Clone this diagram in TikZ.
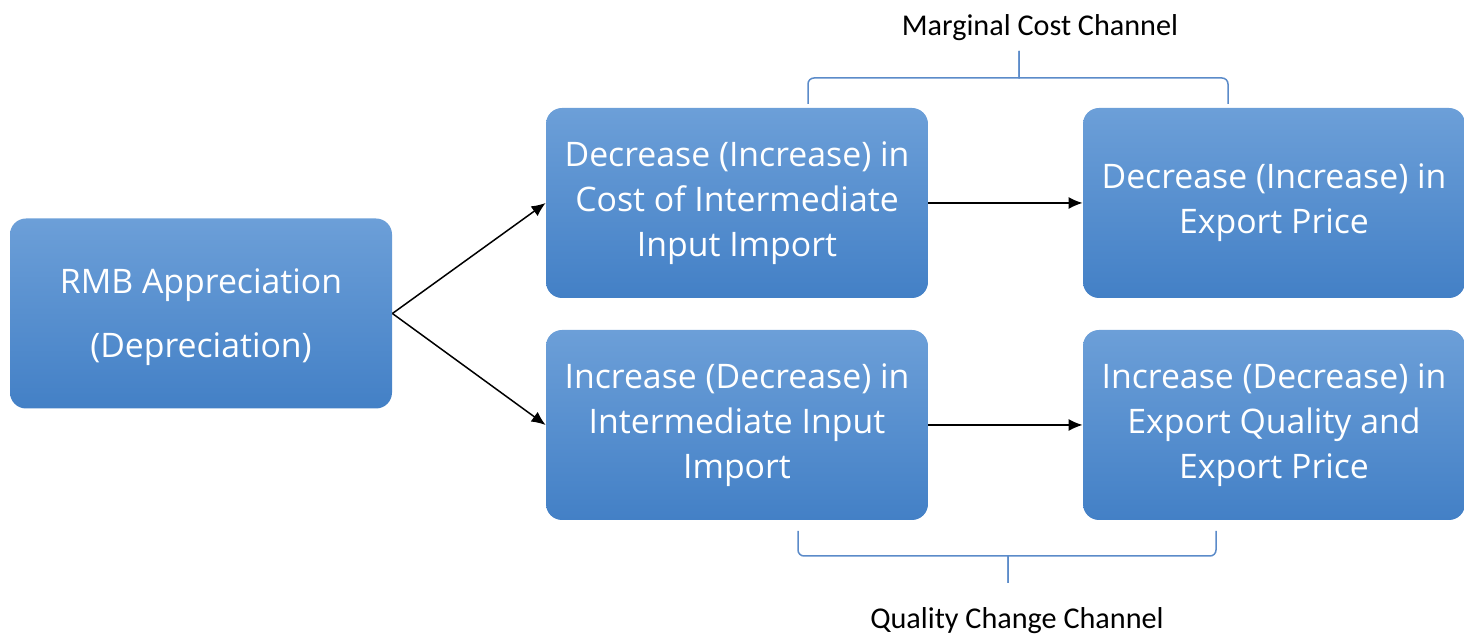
\documentclass[tikz,border=0pt]{standalone}
\usepackage{fontspec}
\setmainfont{Open Sans}
\newfontfamily\labelfont{Carlito}
\usetikzlibrary{arrows.meta}
\definecolor{boxtop}{HTML}{6C9FD8}
\definecolor{boxbot}{HTML}{4380C6}
\definecolor{bracecol}{HTML}{5B8BC9}
\begin{document}
\begin{tikzpicture}[x=0.5pt,y=-0.5pt,
  stepbox/.style={rectangle, rounded corners=8pt, top color=boxtop, bottom color=boxbot,
    draw=none, minimum width=191pt, minimum height=95pt, inner sep=0pt,
    text=white, align=center, font=\fontsize{16.9}{22.5}\selectfont},
  flow/.style={draw=black, line width=0.75pt, -{Latex[length=7pt,width=6pt]}},
  brace/.style={draw=bracecol, line width=0.75pt, rounded corners=3pt},
  chan/.style={font=\labelfont\fontsize{15.1}{17}\selectfont, text=black}]
\useasboundingbox (0,0) rectangle (1464,640);
% boxes
\node[stepbox] (rmb) at (201,313.5) {};
\node[text=white, align=center, font=\fontsize{16.9}{32}\selectfont] (rmbtext) at (201,317) {RMB Appreciation\\(Depreciation)};
\node[stepbox] (cost) at (737,203) {Decrease (Increase) in\\Cost of Intermediate\\Input Import};
\node[stepbox] (price) at (1274,203) {Decrease (Increase) in\\Export Price};
\node[stepbox] (input) at (737,425) {Increase (Decrease) in\\Intermediate Input\\Import};
\node[stepbox] (quality) at (1274,425) {Increase (Decrease) in\\Export Quality and\\Export Price};
% connectors
\draw[flow] (rmb.east) -- (cost.west);
\draw[flow] (rmb.east) -- (input.west);
\draw[flow] (cost.east) -- (price.west);
\draw[flow] (input.east) -- (quality.west);
% channel braces
\coordinate (tl) at (808,104);
\coordinate (tr) at (1228,104);
\coordinate (tt) at (1019,51);
\draw[brace] (tl) -- (808,78) -- (1013,78) .. controls (1019,78) .. (tt);
\draw[brace] (tr) -- (1228,78) -- (1025,78) .. controls (1019,78) .. (tt);
\coordinate (bl) at (798,531);
\coordinate (br) at (1216,531);
\coordinate (bt) at (1008,583);
\draw[brace] (bl) -- (798,556) -- (1002,556) .. controls (1008,556) .. (bt);
\draw[brace] (br) -- (1216,556) -- (1014,556) .. controls (1008,556) .. (bt);
\node[chan] (mc) at (1040,28) {Marginal Cost Channel};
\node[chan] (qc) at (1017,621) {Quality Change Channel};
\end{tikzpicture}
\end{document}
